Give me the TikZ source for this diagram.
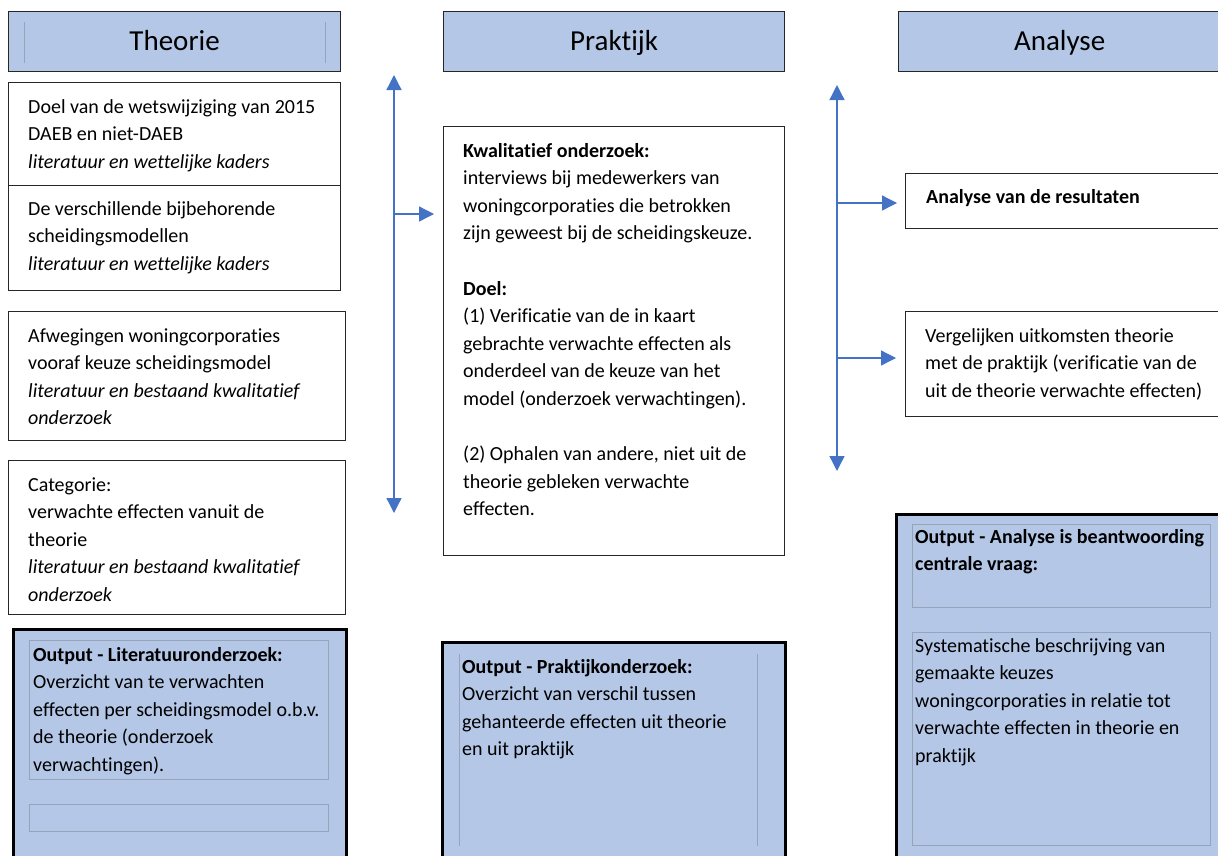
\documentclass[tikz,border=0pt]{standalone}
\usepackage{fontspec}
\setmainfont[Ligatures={NoCommon}]{Carlito}
\usetikzlibrary{arrows.meta}
\usetikzlibrary{positioning}
\definecolor{blauw}{HTML}{B4C7E7}
\definecolor{pijlblauw}{HTML}{4472C4}
\definecolor{rand}{HTML}{262626}
\definecolor{lijngrijs}{HTML}{97A3B8}

\begin{document}
\begin{tikzpicture}[x=1pt,y=-1pt,
  kop/.style={draw=rand,fill=blauw,line width=1.2pt,anchor=north west,minimum height=60,inner sep=0pt,text height=22,text depth=4,font=\fontsize{29}{35}\selectfont},
  vak/.style={draw=rand,fill=white,line width=1.2pt,anchor=north west,inner sep=0pt},
  uitvoer/.style={draw=black,fill=blauw,line width=3pt,anchor=north west,inner sep=0pt},
  tekst/.style={anchor=north west,align=left,inner sep=0pt,font=\fontsize{20}{27.5}\selectfont},
  binnen/.style={draw=lijngrijs,line width=0.8pt},
  pijl/.style={draw=pijlblauw,line width=1.3pt,>={Triangle[width=15pt,length=15pt]}}]
			\useasboundingbox (0,0) rectangle (1218,855);
			\clip (0,0) rectangle (1218,855);
			% kolomkoppen
			\node[kop,minimum width=332] (theorie) at (8,11) {Theorie};
			\node[kop,minimum width=341] (praktijk) at (443,11) {Praktijk};
			\node[kop,minimum width=322] (analyse) at (898,11) {Analyse};
			\draw[binnen] ([shift={(16,11)}]theorie.north west) -- ([shift={(16,-9)}]theorie.south west);
			\draw[binnen] ([shift={(-16,11)}]theorie.north east) -- ([shift={(-16,-9)}]theorie.south east);
			% theorie
			\node[vak,minimum width=332,minimum height=103] (doel) at (8,82) {};
			\node[vak,minimum width=332,minimum height=105] (modellen) at (8,185) {};
			\node[vak,minimum width=337,minimum height=129] (afwegingen) at (8,311) {};
			\node[vak,minimum width=337,minimum height=154] (categorie) at (8,460) {};
			\node[uitvoer,minimum width=333,minimum height=240] (outlit) at (12,628) {};
			\draw[binnen] ([shift={(17,12)}]outlit.north west) rectangle ([shift={(316,151)}]outlit.north west);
			\draw[binnen] ([shift={(17,176)}]outlit.north west) rectangle ([shift={(316,203)}]outlit.north west);
			\node[tekst] (doel-t) at ([shift={(20,12)}]doel.north west) {\strut Doel van de wetswijziging van 2015\\DAEB en niet-DAEB\\\textit{literatuur en wettelijke kaders}};
			\node[tekst] (modellen-t) at ([shift={(20,11)}]modellen.north west) {\strut De verschillende bijbehorende\\scheidingsmodellen\\\textit{literatuur en wettelijke kaders}};
			\node[tekst] (afwegingen-t) at ([shift={(20,12)}]afwegingen.north west) {\strut Afwegingen woningcorporaties\\vooraf keuze scheidingsmodel\\\textit{literatuur en bestaand kwalitatief}\\\textit{onderzoek}};
			\node[tekst] (categorie-t) at ([shift={(20,12)}]categorie.north west) {\strut Categorie:\\verwachte effecten vanuit de\\theorie\\\textit{literatuur en bestaand kwalitatief}\\\textit{onderzoek}};
			\node[tekst] (outlit-t) at ([shift={(21,14)}]outlit.north west) {\strut\textbf{Output - Literatuuronderzoek:}\\Overzicht van te verwachten\\effecten per scheidingsmodel o.b.v.\\de theorie (onderzoek\\verwachtingen).};
			% praktijk
			\node[vak,minimum width=341,minimum height=429] (kwal) at (443,126) {};
			\node[uitvoer,minimum width=343,minimum height=230] (outprak) at (441,641) {};
			\draw[binnen] ([shift={(18,13)}]outprak.north west) -- ([shift={(18,205)}]outprak.north west);
			\draw[binnen] ([shift={(316,13)}]outprak.north west) -- ([shift={(316,205)}]outprak.north west);
			\node[tekst] (kwal-t) at ([shift={(20,12)}]kwal.north west) {\strut\textbf{Kwalitatief onderzoek:}\\interviews bij medewerkers van\\woningcorporaties die betrokken\\zijn geweest bij de scheidingskeuze.\\[28pt]\textbf{Doel:}\\(1) Verificatie van de in kaart\\gebrachte verwachte effecten als\\onderdeel van de keuze van het\\model (onderzoek verwachtingen).\\[28pt](2) Ophalen van andere, niet uit de\\theorie gebleken verwachte\\effecten.};
			\node[tekst] (outprak-t) at ([shift={(21,13)}]outprak.north west) {\strut\textbf{Output - Praktijkonderzoek:}\\Overzicht van verschil tussen\\gehanteerde effecten uit theorie\\en uit praktijk};
			% analyse
			\node[vak,minimum width=330,minimum height=55] (resultaten) at (905,173) {};
			\node[vak,minimum width=330,minimum height=105] (vergelijken) at (905,311) {};
			\node[uitvoer,minimum width=340,minimum height=350] (outana) at (895,513) {};
			\draw[binnen] ([shift={(17,11)}]outana.north west) rectangle ([shift={(315,94)}]outana.north west);
			\draw[binnen] ([shift={(17,119)}]outana.north west) rectangle ([shift={(315,332)}]outana.north west);
			\node[tekst] (resultaten-t) at ([shift={(21,11)}]resultaten.north west) {\strut\textbf{Analyse van de resultaten}};
			\node[tekst] (vergelijken-t) at ([shift={(20,12)}]vergelijken.north west) {\strut Vergelijken uitkomsten theorie\\met de praktijk (verificatie van de\\uit de theorie verwachte effecten)};
			\node[tekst] (outana-t) at ([shift={(20,11)}]outana.north west) {\strut\textbf{Output - Analyse is beantwoording}\\\textbf{centrale vraag:}};
			\node[tekst] (systematisch-t) at ([shift={(20,120)}]outana.north west) {\strut Systematische beschrijving van\\gemaakte keuzes\\woningcorporaties in relatie tot\\verwachte effecten in theorie en\\praktijk};
			% pijlen
			\coordinate (links-boven) at (394,75);
			\coordinate (links-onder) at (394,513);
			\coordinate (links-midden) at (394,214);
			\coordinate (rechts-boven) at (837,85);
			\coordinate (rechts-onder) at (837,471);
			\coordinate (rechts-1) at (837,203);
			\coordinate (rechts-2) at (837,358);
			\draw[pijl,<->] (links-boven) -- (links-onder);
			\draw[pijl,->,shorten >=9pt] (links-midden) -- (links-midden -| kwal.west);
			\draw[pijl,<->] (rechts-boven) -- (rechts-onder);
			\draw[pijl,->,shorten >=8pt] (rechts-1) -- (rechts-1 -| resultaten.west);
			\draw[pijl,->,shorten >=9pt] (rechts-2) -- (rechts-2 -| vergelijken.west);
\end{tikzpicture}
\end{document}
